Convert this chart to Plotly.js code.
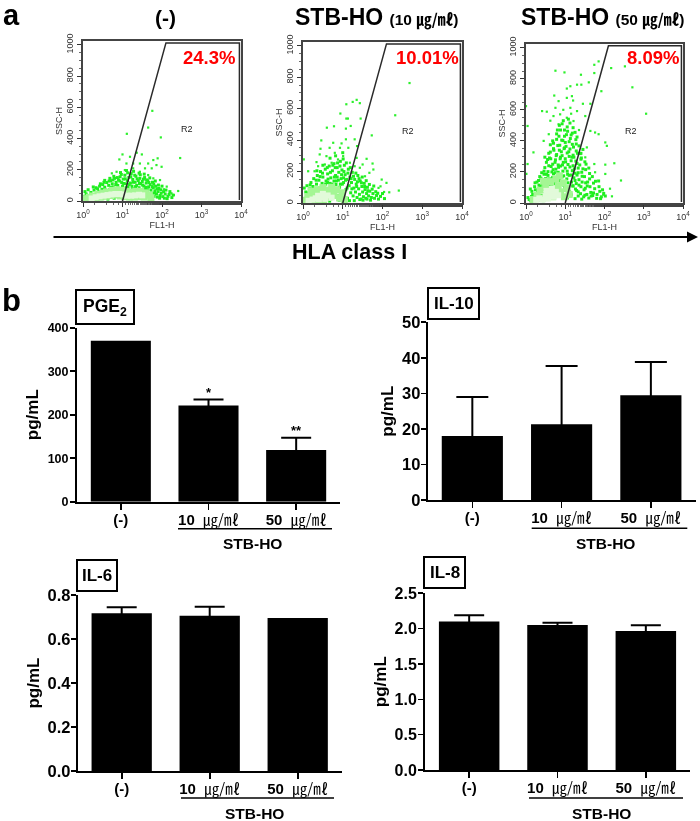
<!DOCTYPE html>
<html><head><meta charset="utf-8">
<script src="https://cdn.plot.ly/plotly-3.0.1.min.js"></script>
<style>html,body{margin:0;padding:0;background:#fff}#c{width:700px;height:821px;filter:blur(0.35px)}</style></head>
<body><div id="c"></div>
<script>
// ---------- Panel a: flow cytometry, points as [log10 FL1-H, SSC-H] ----------
const flowSparseA=[[1.755,577],[1.65,470],[1.11,430],[1.97,407],[2.46,275],[1.0,298],[1.36,309],[1.49,298],[1.89,273],[1.78,262],[1.65,240],[1.44,240],[1.19,283],[.92,266],[1.1,240],[1.27,240],[1.57,209],[1.74,209],[1.86,230],[1.99,219],[1.95,134],[2.12,92],[2.24,49],[2.41,64],[1.27,209],[1.06,198],[.85,187],[.73,177],[1.44,187],[1.65,166],[1.78,145],[2.05,75],[2.3,38]];
const flowDenseA=[[.05,60],[.1,25],[.08,45],[.15,35],[.2,55],[.22,20],[.28,70],[.3,42],[.33,85],[.36,28],[.4,60],[.42,95],[.45,40],[.48,75],[.5,105],[.52,22],[.55,88],[.58,55],[.6,118],[.62,35],[.65,100],[.67,72],[.7,130],[.72,48],[.74,110],[.77,90],[.8,145],[.82,65],[.84,120],[.86,30],[.88,100],[.9,135],[.92,80],[.94,155],[.96,50],[.98,118],[1.0,95],[1.02,140],[1.04,70],[1.06,165],[1.08,110],[1.1,40],[1.12,130],[1.14,88],[1.16,150],[1.18,60],[1.2,115],[1.22,175],[1.24,95],[1.26,138],[1.28,30],[1.3,75],[1.32,120],[1.34,158],[1.36,100],[1.38,50],[1.4,130],[1.42,85],[1.44,145],[1.46,110],[1.48,65],[1.5,125],[1.52,40],[1.54,95],[1.56,150],[1.58,75],[1.6,115],[1.62,55],[1.64,130],[1.66,90],[1.68,35],[1.7,105],[1.72,70],[1.74,50],[1.76,120],[1.78,85],[1.8,30],[1.82,65],[1.84,95],[1.86,45],[1.88,25],[1.9,60],[1.92,80],[1.95,35],[1.98,50],[2.02,28],[2.08,45],[2.15,30],[2.2,60],[2.28,38],
[.03,30],[.13,72],[.19,15],[.26,90],[.31,12],[.37,78],[.44,110],[.47,15],[.53,120],[.57,70],[.63,12],[.66,128],[.71,88],[.76,135],[.79,18],[.83,105],[.87,150],[.91,62],[.93,128],[.97,170],[1.01,22],[1.03,112],[1.07,142],[1.09,85],[1.13,180],[1.17,105],[1.19,15],[1.21,155],[1.25,78],[1.27,120],[1.31,165],[1.33,92],[1.37,142],[1.39,18],[1.43,112],[1.45,168],[1.47,60],[1.51,102],[1.53,140],[1.57,22],[1.59,88],[1.61,135],[1.63,72],[1.67,118],[1.69,148],[1.73,20],[1.75,92],[1.79,108],[1.81,50],[1.83,128],[1.87,78],[1.91,102],[1.94,18],[1.97,72],[2.0,95],[2.04,60],[2.06,18],[2.1,70],[2.13,15],[2.18,42],[2.25,22],[.95,182],[1.1,195],[1.28,190],[1.42,178],[1.55,172],[.68,145],[.55,132],[.78,158]];
const flowMidA=[[.08,15],[.16,24],[.25,32],[.33,22],[.38,42],[.5,50],[.45,25],[.62,58],[.58,30],[.74,68],[.7,35],[.86,72],[.82,38],[.98,68],[.95,32],[1.1,60],[1.05,28],[1.22,58],[1.18,25],[1.34,62],[1.3,25],[1.46,62],[1.42,28],[1.58,52],[1.55,25],[1.68,38],[1.72,20]];
const flowCoreA=[[.22,16],[.32,24],[.42,30],[.52,34],[.62,38],[.72,42],[.82,45],[.92,45],[1.02,42],[1.12,34],[1.22,34],[1.32,36],[1.42,40],[1.5,36]];

const flowSparseB=[[2.68,763],[2.32,558],[1.35,656],[1.25,643],[1.43,635],[1.09,628],[.94,569],[1.09,537],[1.13,537],[1.45,537],[.78,488],[.6,479],[1.08,473],[1.2,490],[1.73,430],[1.08,405],[1.3,405],[.97,379],[.76,383],[.46,398],[.44,345],[.93,351],[1.36,362],[.67,351],[1.14,351],[.02,277],[.34,260],[.42,309],[.59,298],[.8,319],[1.01,298],[1.35,287],[1.6,281],[1.5,245],[1.75,251],[1.77,213],[1.67,192],[1.98,149],[2.1,128],[2.17,68],[2.41,79],[1.95,106],[2.04,70],[1.9,96],[.13,202],[.29,202],[.38,234],[.55,245],[.72,256],[.88,277],[1.18,256],[1.3,234],[1.43,224],[1.56,170]];
const flowDenseB=[[.05,30],[.07,70],[.1,110],[.12,50],[.15,20],[.17,90],[.2,130],[.22,60],[.25,105],[.27,155],[.3,35],[.32,80],[.34,120],[.36,175],[.38,55],[.4,145],[.42,95],[.44,200],[.46,30],[.48,125],[.5,165],[.52,70],[.54,105],[.56,215],[.58,140],[.6,50],[.62,185],[.64,90],[.66,235],[.68,125],[.7,160],[.72,30],[.74,205],[.76,110],[.78,250],[.8,75],[.82,175],[.84,140],[.86,225],[.88,45],[.9,195],[.92,100],[.94,265],[.96,155],[.98,210],[1.0,60],[1.02,130],[1.04,240],[1.06,180],[1.08,85],[1.1,150],[1.12,30],[1.14,215],[1.16,110],[1.18,165],[1.2,65],[1.22,130],[1.24,195],[1.26,45],[1.28,95],[1.3,150],[1.32,70],[1.34,120],[1.36,35],[1.38,175],[1.4,90],[1.42,55],[1.44,140],[1.46,25],[1.48,105],[1.5,70],[1.52,40],[1.54,125],[1.56,85],[1.58,30],[1.6,60],[1.62,100],[1.65,45],[1.68,75],[1.72,35],[1.76,60],[1.8,30],[1.85,48],[1.9,25],[.62,130],[.7,100],[.78,140],[.86,165],[.94,120],[1.02,160],[.58,90],[.66,60],
[.03,95],[.09,15],[.14,65],[.18,115],[.24,15],[.28,85],[.33,145],[.37,12],[.43,168],[.47,105],[.49,190],[.53,12],[.57,120],[.61,225],[.63,152],[.67,12],[.69,195],[.73,120],[.75,240],[.79,165],[.81,225],[.83,118],[.87,255],[.89,145],[.91,18],[.93,235],[.97,180],[.99,120],[1.01,280],[1.03,200],[1.07,145],[1.09,255],[1.11,95],[1.13,190],[1.17,15],[1.19,225],[1.21,155],[1.23,90],[1.27,170],[1.29,15],[1.33,190],[1.35,105],[1.37,135],[1.41,155],[1.43,22],[1.47,128],[1.49,165],[1.51,18],[1.55,105],[1.59,142],[1.61,25],[1.63,78],[1.67,118],[1.7,18],[1.74,88],[1.78,108],[1.83,72],[1.88,62],[1.95,42],[2.0,60],[2.05,28],[.35,205],[.5,240],[.68,285],[.82,300],[1.0,320]];
const flowMidB=[[.06,15],[.12,40],[.18,28],[.25,62],[.3,18],[.36,85],[.42,45],[.5,98],[.52,22],[.6,82],[.65,35],[.72,100],[.78,48],[.85,85],[.92,32],[.98,65],[1.04,22],[.4,20],[.2,75],[.7,68]];
const flowCoreB=[[.14,14],[.24,22],[.32,30],[.4,24],[.48,36],[.56,26],[.62,48],[.72,34],[.38,46],[.5,58]];

const flowSparseC=[[3.06,575],[2.71,745],[2.52,880],[2.17,869],[1.85,912],[1.74,890],[.75,852],[.98,841],[1.4,826],[1.74,837],[1.6,777],[1.92,720],[1.3,762],[1.41,762],[1.04,737],[1.13,752],[.72,692],[1.17,688],[.41,592],[.53,588],[0,624],[.04,496],[.83,656],[1.04,677],[1.45,639],[1.64,639],[.75,613],[1.13,613],[1.3,592],[.87,571],[1.51,560],[1.04,549],[1.21,528],[.83,507],[1.64,464],[1.76,454],[1.85,443],[2.02,390],[2.06,368],[.58,443],[.45,400],[1.55,358],[1.51,294],[1.74,251],[2.02,247],[2.25,256],[1.76,198],[2.02,187],[2.42,145],[2.14,92],[1.97,53],[2.19,43],[.01,187],[.04,251],[.19,326],[1.2,660],[.95,600],[.62,530],[1.35,470],[.7,560],[1.15,575]];
const flowDenseC=[[.85,500],[.95,530],[1.05,490],[1.12,515],[1.2,485],[.78,445],[.88,470],[.98,430],[1.06,462],[1.15,438],[1.25,455],[1.3,425],[.7,385],[.78,410],[.86,372],[.94,402],[1.02,365],[1.1,395],[1.18,378],[1.27,408],[1.35,368],[.62,328],[.7,350],[.78,312],[.85,340],[.92,305],[.98,355],[1.05,322],[1.12,348],[1.2,308],[1.28,335],[1.38,318],[1.45,345],[.52,262],[.6,290],[.68,250],[.75,278],[.82,245],[.88,295],[.95,262],[1.0,285],[1.07,248],[1.15,272],[1.22,295],[1.3,255],[1.4,282],[1.5,265],[.4,195],[.48,228],[.56,202],[.64,235],[.7,188],[.76,218],[.82,198],[.88,238],[.94,205],[1.0,225],[1.06,185],[1.12,232],[1.18,208],[1.25,192],[1.33,225],[1.42,198],[1.52,215],[1.62,190],[.28,135],[.35,170],[.42,125],[.5,158],[.56,178],[.62,140],[.68,165],[.74,125],[.8,175],[.86,145],[.92,168],[.98,128],[1.04,155],[1.1,178],[1.16,135],[1.22,162],[1.28,125],[1.35,150],[1.43,172],[1.52,130],[1.62,155],[1.72,128],[1.85,142],[.15,75],[.22,105],[.3,68],[.36,112],[.42,88],[.48,62],[.54,115],[.6,85],[.66,105],[.72,72],[.78,112],[.84,92],[.9,68],[.96,115],[1.02,85],[1.08,102],[1.14,65],[1.2,110],[1.26,90],[1.33,72],[1.4,105],[1.48,85],[1.56,110],[1.65,68],[1.75,92],[1.88,75],[1.98,62],[.08,22],[.14,42],[.2,18],[.28,50],[.36,28],[.44,15],[.95,48],[1.05,32],[1.15,52],[1.25,28],[1.33,45],[1.42,25],[1.5,50],[1.6,32],[1.7,48],[1.8,30],[1.92,40],[.58,320],[.66,200],[.74,262],[.9,330],[1.0,390],[.84,430],[1.1,300],[1.2,240],[1.3,180],[.58,155],[.46,185],
[.05,35],[.11,90],[.17,55],[.23,130],[.26,30],[.32,145],[.34,88],[.38,160],[.4,48],[.44,108],[.46,205],[.5,128],[.52,185],[.54,75],[.58,240],[.6,115],[.63,285],[.65,155],[.67,95],[.69,215],[.71,340],[.73,145],[.75,195],[.77,305],[.79,85],[.81,370],[.83,230],[.85,160],[.87,285],[.89,120],[.91,405],[.93,245],[.96,175],[.97,350],[.99,95],[1.01,265],[1.03,440],[1.05,205],[1.07,130],[1.09,330],[1.11,75],[1.13,415],[1.15,180],[1.17,295],[1.19,110],[1.21,360],[1.23,220],[1.25,145],[1.27,270],[1.29,80],[1.31,320],[1.33,195],[1.35,115],[1.37,245],[1.39,60],[1.41,290],[1.43,135],[1.45,220],[1.47,40],[1.49,170],[1.51,95],[1.53,250],[1.55,55],[1.57,135],[1.6,225],[1.63,105],[1.66,45],[1.69,170],[1.72,65],[1.77,140],[1.81,55],[1.86,105],[1.9,28],[1.95,85],[2.02,45],[.55,280],[.68,400],[.8,470],[.92,510],[1.18,450],[1.08,540],[.98,470],[1.28,380],[1.4,320],[.48,295],[.62,375],[.2,35],[.12,15],[.3,18],[.24,85],[.33,115]];
const flowMidC=[[.18,22],[.28,48],[.36,82],[.42,32],[.5,108],[.55,62],[.62,138],[.7,90],[.76,155],[.82,112],[.88,72],[.95,130],[.98,40],[1.05,92],[1.1,55],[.45,140],[.68,40],[.85,175]];
const flowCoreC=[[.26,20],[.34,30],[.42,22],[.5,44],[.56,28],[.62,58],[.7,40],[.52,78],[.76,72],[.82,50],[.66,92]];
const flowTicks=[1,10,100,1000,10000];
const flowTickText=["10<sup>0</sup>","10<sup>1</sup>","10<sup>2</sup>","10<sup>3</sup>","10<sup>4</sup>"];
const gateDecadesX=[1.0,2.1,3.96,3.96];
const gateSsc=[0,1012,1012,6];
const flowPercents=["24.3%","10.01%","8.09%"];

// ---------- Panel b: bar values ----------
const barCategories=["(-)","10","50"];
const unit="㎍/㎖";
const pge2=[370,221,119],pge2Err=[0,14,28];
const il10=[18,21.3,29.5],il10Err=[11,16.4,9.3];
const il6=[.717,.706,.695],il6Err=[.027,.041,0];
const il8=[2.10,2.05,1.967],il8Err=[.09,.035,.08];

const W=700,H=821,fx=v=>v/W,fy=v=>1-v/H;
const SANS="Liberation Sans, Arial, sans-serif";
const layout={width:W,height:H,margin:{l:0,r:0,t:0,b:0},paper_bgcolor:"#fff",plot_bgcolor:"#fff",showlegend:false,annotations:[],shapes:[]};
const data=[];
const note=(text,x,y,size,o={})=>layout.annotations.push(Object.assign({text,x:fx(x),y:fy(y),xref:"paper",yref:"paper",showarrow:false,xanchor:"center",yanchor:"middle",font:{family:SANS,size,color:"#000",weight:700}},o));

const flows=[
 {id:"",  box:[83,241,41,201], sparse:flowSparseA,dense:flowDenseA,mid:flowMidA,core:flowCoreA,pct:[209,58],r2:[187,129]},
 {id:"2", box:[303,462,42,203],sparse:flowSparseB,dense:flowDenseB,mid:flowMidB,core:flowCoreB,pct:[427,58],r2:[408,131]},
 {id:"3", box:[526,683,44,203],sparse:flowSparseC,dense:flowDenseC,mid:flowMidC,core:flowCoreC,pct:[653,58],r2:[631,131]}
];
flows.forEach((f,i)=>{
 const xa="x"+f.id,ya="y"+f.id;
 const layer=(pts,size,color)=>data.push({type:"scatter",mode:"markers",xaxis:xa,yaxis:ya,x:pts.map(p=>Math.pow(10,p[0])),y:pts.map(p=>p[1]),marker:{size,color,symbol:"square",line:{width:0}},hoverinfo:"skip",cliponaxis:true});
 layer(f.sparse,2.2,"#2cf02c");
 layer(f.dense,3,"#1fee1f");
 layer(f.mid,7,"#a4f694");
 layer(f.core,6,"#e2fada");
 data.push({type:"scatter",mode:"lines",xaxis:xa,yaxis:ya,x:gateDecadesX.map(v=>Math.pow(10,v)),y:gateSsc,line:{color:"#2a2a2a",width:1.5},hoverinfo:"skip"});
 layout["xaxis"+f.id]={type:"log",range:[0,4],domain:[fx(f.box[0]),fx(f.box[1])],anchor:ya,tickmode:"array",tickvals:flowTicks,ticktext:flowTickText,tickfont:{family:SANS,size:9,color:"#333"},ticks:"outside",ticklen:4,tickwidth:1,tickcolor:"#333",showgrid:false,zeroline:false,showline:true,linecolor:"#444",linewidth:2,mirror:true,minor:{ticks:"outside",ticklen:2,tickcolor:"#444",tickwidth:.8,showgrid:false},title:{text:"FL1-H",font:{family:SANS,size:9,color:"#333"},standoff:0}};
 layout["yaxis"+f.id]={range:[0,1024],domain:[fy(f.box[3]),fy(f.box[2])],anchor:xa,tickmode:"array",tickvals:[0,200,400,600,800,1000],tickangle:-90,tickfont:{family:SANS,size:9,color:"#333"},ticks:"outside",ticklen:4,tickwidth:1,tickcolor:"#333",showgrid:false,zeroline:false,showline:true,linecolor:"#444",linewidth:2,mirror:true,minor:{ticks:"outside",ticklen:2,dtick:50,tickcolor:"#444",tickwidth:.8,showgrid:false},title:{text:"SSC-H",font:{family:SANS,size:9,color:"#333"},standoff:1}};
 note(flowPercents[i],f.pct[0],f.pct[1],18.5,{font:{family:SANS,size:18.5,color:"#f00",weight:700}});
 note("R2",f.r2[0],f.r2[1],9,{font:{family:SANS,size:9,color:"#222"}});
});
note("a",11,15,29);
note("b",11,300,31);
note("(-)",165,18,21);
const small=d=>`<span style="font-size:15.5px;font-weight:bold">(${d} <span style="font-family:'Noto Sans CJK KR'">${unit}</span>)</span>`;
note("STB-HO "+small(10),376.5,17,23);
note("STB-HO "+small(50),602,17,23);
note("HLA class I",349,252,21.5);
layout.annotations.push({x:fx(698),y:fy(237),ax:fx(52),ay:fy(237),xref:"paper",yref:"paper",axref:"paper",ayref:"paper",text:"",showarrow:true,arrowhead:2,arrowsize:1.1,arrowwidth:2,arrowcolor:"#000"});

const bars=[
 {id:"4",name:"PGE<sub>2</sub>",v:pge2,e:pge2Err,max:400,dtick:100,fmt:".0f",box:[77,340,327.7,501.7],fs:12.5,ls:-1,ts:5,label:[76,134,290,324],lfs:17.5,under:[178,332,528.7],stb:[252,543],cap:15},
 {id:"5",name:"IL-10",v:il10,e:il10Err,max:50,dtick:10,fmt:".0f",box:[427.7,695.5,322.3,500],fs:16.5,ls:-3,ts:4,label:[428,479,288,319],lfs:17,under:[531.7,687.3,528.3],stb:[605,543],cap:16},
 {id:"6",name:"IL-6",v:il6,e:il6Err,max:.8,dtick:.2,fmt:".1f",box:[77.7,341.7,595,771],fs:16.5,ls:-3,ts:4,label:[77,117,560,591],lfs:17,under:[181,334,798],stb:[254,813],cap:15},
 {id:"7",name:"IL-8",v:il8,e:il8Err,max:2.5,dtick:.5,fmt:".1f",box:[425,690,593.3,770],fs:16,ls:-2,ts:4,label:[424,465,557,588],lfs:17,under:[529,683,798],stb:[601.7,813],cap:15}
];
bars.forEach(b=>{
 const xa="x"+b.id,ya="y"+b.id;
 data.push({type:"bar",xaxis:xa,yaxis:ya,x:[0,1,2],y:b.v,width:.685,marker:{color:"#000",line:{width:0}},
  error_y:{type:"data",symmetric:true,array:b.e.map(v=>v>0?v:undefined),color:"#000",thickness:2,width:b.cap},hoverinfo:"skip"});
 const ticktext=barCategories.map((c,i)=>i==0?c:`${c}  <span style="font-family:'Noto Sans CJK KR';font-weight:normal;font-size:15px">${unit}</span>`);
 layout["xaxis"+b.id]={range:[-.5,2.5],domain:[fx(b.box[0]),fx(b.box[1])],anchor:ya,tickmode:"array",tickvals:[0,1,2],ticktext,tickangle:0,tickfont:{family:SANS,size:15,color:"#000",weight:700},ticks:"outside",ticklen:6,tickwidth:1.6,tickcolor:"#000",ticklabelstandoff:-3,showline:true,linecolor:"#000",linewidth:2,showgrid:false,zeroline:false};
 layout["yaxis"+b.id]={range:[0,b.max],domain:[fy(b.box[3]),fy(b.box[2])],anchor:xa,dtick:b.dtick,tick0:0,tickformat:b.fmt,tickfont:{family:SANS,size:b.fs,color:"#000",weight:700},ticks:"outside",ticklen:5,tickwidth:1.6,tickcolor:"#000",ticklabelstandoff:b.ls,showline:true,linecolor:"#000",linewidth:2,showgrid:false,zeroline:false,title:{text:"pg/mL",font:{family:SANS,size:17,color:"#000",weight:700},standoff:b.ts}};
 layout.shapes.push({type:"rect",xref:"paper",yref:"paper",x0:fx(b.label[0]),x1:fx(b.label[1]),y0:fy(b.label[3]),y1:fy(b.label[2]),line:{color:"#000",width:2},fillcolor:"#fff"});
 note(b.name,(b.label[0]+b.label[1])/2,(b.label[2]+b.label[3])/2,b.lfs);
 layout.shapes.push({type:"line",xref:"paper",yref:"paper",x0:fx(b.under[0]),x1:fx(b.under[1]),y0:fy(b.under[2]),y1:fy(b.under[2]),line:{color:"#000",width:1.5}});
 note("STB-HO",b.stb[0],b.stb[1],15.5);
});
layout.annotations.push({text:"*",xref:"x4",yref:"y4",x:1,y:pge2[1]+pge2Err[1],yshift:7,showarrow:false,font:{family:SANS,size:13,weight:700,color:"#000"}});
layout.annotations.push({text:"**",xref:"x4",yref:"y4",x:2,y:pge2[2]+pge2Err[2],yshift:7,showarrow:false,font:{family:SANS,size:13,weight:700,color:"#000"}});

Plotly.newPlot("c",data,layout,{staticPlot:true,displayModeBar:false});
</script></body></html>
